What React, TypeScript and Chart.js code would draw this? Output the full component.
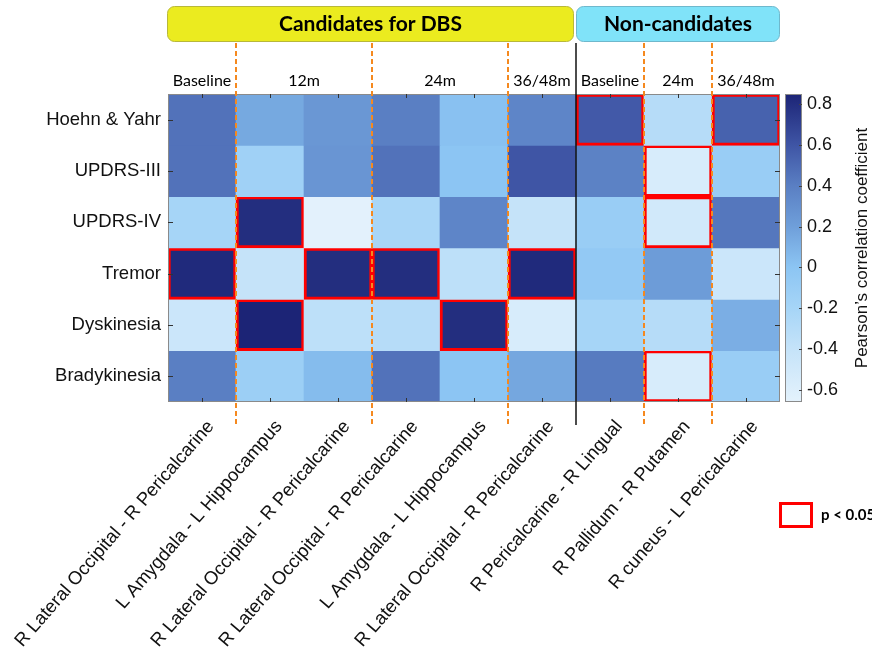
import React, { useEffect, useRef } from 'react';
import { Chart, registerables } from 'chart.js';

Chart.register(...registerables);

// ---------- data ----------
const connections = [
  'R Lateral Occipital - R Pericalcarine',
  'L Amygdala - L Hippocampus',
  'R Lateral Occipital - R Pericalcarine',
  'R Lateral Occipital - R Pericalcarine',
  'L Amygdala - L Hippocampus',
  'R Lateral Occipital - R Pericalcarine',
  'R Pericalcarine - R Lingual',
  'R Pallidum - R Putamen',
  'R cuneus - L Pericalcarine',
];

const measures = ['Hoehn & Yahr', 'UPDRS-III', 'UPDRS-IV', 'Tremor', 'Dyskinesia', 'Bradykinesia'];

const hoehnYahr = [0.46, 0.15, 0.25, 0.4, 0.02, 0.36, 0.58, -0.3, 0.54];
const updrsIII = [0.46, -0.15, 0.26, 0.46, 0.0, 0.6, 0.38, -0.55, -0.1];
const updrsIV = [-0.2, 0.8, -0.65, -0.22, 0.36, -0.4, -0.1, -0.5, 0.44];
const tremor = [0.82, -0.4, 0.8, 0.8, -0.35, 0.82, -0.05, 0.22, -0.45];
const dyskinesia = [-0.45, 0.85, -0.35, -0.3, 0.8, -0.55, -0.2, -0.3, 0.12];
const bradykinesia = [0.4, -0.12, 0.05, 0.46, 0.0, 0.16, 0.42, -0.55, -0.1];
const correlations = [hoehnYahr, updrsIII, updrsIV, tremor, dyskinesia, bradykinesia];

// column indices with p < 0.05, per measure
const sigHoehnYahr = [6, 8];
const sigUpdrsIII = [7];
const sigUpdrsIV = [1, 7];
const sigTremor = [0, 2, 3, 5];
const sigDyskinesia = [1, 4];
const sigBradykinesia = [7];
const significant = [sigHoehnYahr, sigUpdrsIII, sigUpdrsIV, sigTremor, sigDyskinesia, sigBradykinesia];

const groupLabels = ['Candidates for DBS', 'Non-candidates'];
const groupSpans = [[0, 5], [6, 8]];
const timepointLabels = ['Baseline', '12m', '24m', '36/48m', 'Baseline', '24m', '36/48m'];
const timepointSpans = [[0, 0], [1, 2], [3, 4], [5, 5], [6, 6], [7, 7], [8, 8]];

const colorbarTicks = [0.8, 0.6, 0.4, 0.2, 0, -0.2, -0.4, -0.6];
const colorMin = -0.66;
const colorMax = 0.85;
const colorbarTitle = 'Pearson\u2019s correlation coefficient';
const legendLabel = 'p < 0.05';

// ---------- colormap ----------
const cmapStops: [number, string][] = [
  [-0.66, '#e4f2fc'],
  [-0.4, '#c5e3f9'],
  [-0.2, '#a6d5f7'],
  [0.0, '#8cc5f3'],
  [0.2, '#6f9fda'],
  [0.4, '#5a7fc3'],
  [0.6, '#3f55a5'],
  [0.85, '#1c2476'],
];

function hexToRgb(h: string) {
  const n = parseInt(h.slice(1), 16);
  return [(n >> 16) & 255, (n >> 8) & 255, n & 255];
}

function colormap(v: number) {
  const c = Math.max(cmapStops[0][0], Math.min(cmapStops[cmapStops.length - 1][0], v));
  for (let i = 0; i < cmapStops.length - 1; i++) {
    const [a, ca] = cmapStops[i];
    const [b, cb] = cmapStops[i + 1];
    if (c >= a && c <= b) {
      const t = (c - a) / (b - a);
      const A = hexToRgb(ca);
      const B = hexToRgb(cb);
      const r = A.map((x, k) => Math.round(x + (B[k] - x) * t));
      return `rgb(${r[0]},${r[1]},${r[2]})`;
    }
  }
  return cmapStops[0][1];
}

const SANS = "'Liberation Sans', Arial, Helvetica, sans-serif";
const HEAD = "Lato, 'Open Sans', sans-serif";

const overlayPlugin = {
  id: 'overlay',
  afterDatasetsDraw(chart: any) {
    const { ctx, chartArea: ca, scales } = chart;
    const xs = scales.x;
    const ys = scales.y;
    const cb = scales.cbar;
    const colW = xs.getPixelForValue(1) - xs.getPixelForValue(0);
    const colLeft = (i: number) => xs.getPixelForValue(i) - colW / 2;
    const colRight = (i: number) => xs.getPixelForValue(i) + colW / 2;

    ctx.save();
    // outline
    ctx.strokeStyle = '#8a8a8a';
    ctx.lineWidth = 1;
    ctx.strokeRect(ca.left + 0.5, ca.top + 0.5, ca.width - 1, ca.height - 1);

    // inward tick marks
    ctx.strokeStyle = '#333';
    ctx.lineWidth = 1;
    ctx.beginPath();
    connections.forEach((_, i) => {
      const px = Math.round(xs.getPixelForValue(i)) + 0.5;
      ctx.moveTo(px, ca.top);
      ctx.lineTo(px, ca.top + 4);
      ctx.moveTo(px, ca.bottom);
      ctx.lineTo(px, ca.bottom - 4);
    });
    measures.forEach((_, r) => {
      const py = Math.round(ys.getPixelForValue(r + 0.5)) + 0.5;
      ctx.moveTo(ca.left, py);
      ctx.lineTo(ca.left + 5, py);
      ctx.moveTo(ca.right, py);
      ctx.lineTo(ca.right - 5, py);
    });
    ctx.stroke();

    const lineTop = 43;
    const lineBottom = ca.bottom + 23;

    // dashed separators between timepoints
    ctx.strokeStyle = '#f5891f';
    ctx.lineWidth = 2;
    ctx.setLineDash([5, 3]);
    timepointSpans.forEach(([s, e], k) => {
      if (k === timepointSpans.length - 1) return;
      const next = timepointSpans[k + 1][0];
      const inGroupBoundary = groupSpans.some(([gs]) => gs === next);
      if (inGroupBoundary) return;
      const px = colRight(e);
      ctx.beginPath();
      ctx.moveTo(px, lineTop);
      ctx.lineTo(px, lineBottom);
      ctx.stroke();
    });
    ctx.setLineDash([]);

    // solid separator between groups
    ctx.strokeStyle = '#111';
    ctx.lineWidth = 1.5;
    groupSpans.slice(1).forEach(([s]) => {
      const px = colLeft(s);
      ctx.beginPath();
      ctx.moveTo(px, lineTop);
      ctx.lineTo(px, lineBottom);
      ctx.stroke();
    });

    // group header boxes
    const groupFill = ['#ebeb1f', '#80e3f9'];
    const groupStroke = ['#b8b83a', '#6fb8cc'];
    groupSpans.forEach(([s, e], k) => {
      const l = colLeft(s) - 1 + (k > 0 ? 1 : 0);
      const r = colRight(e) - (k === 0 ? 2 : 0);
      const t = 6;
      const b = 42;
      ctx.beginPath();
      (ctx as any).roundRect(l + 0.5, t + 0.5, r - l - 1, b - t - 1, 7);
      ctx.fillStyle = groupFill[k];
      ctx.fill();
      ctx.strokeStyle = groupStroke[k];
      ctx.lineWidth = 1;
      ctx.stroke();
      ctx.fillStyle = '#000';
      ctx.font = `bold 21px ${HEAD}`;
      ctx.textAlign = 'center';
      ctx.textBaseline = 'middle';
      ctx.fillText(groupLabels[k], (l + r) / 2, 24);
    });

    // timepoint labels
    ctx.font = `16px ${HEAD}`;
    ctx.fillStyle = '#000';
    ctx.textAlign = 'center';
    ctx.textBaseline = 'middle';
    timepointSpans.forEach(([s, e], k) => {
      ctx.fillText(timepointLabels[k], (colLeft(s) + colRight(e)) / 2, 81);
    });

    // colorbar
    const cbL = ca.right + 5;
    const cbW = 17;
    const gTop = cb.getPixelForValue(colorMax);
    const gBot = cb.getPixelForValue(colorMin);
    const grad = ctx.createLinearGradient(0, gTop, 0, gBot);
    cmapStops.forEach(([v, c]) => {
      grad.addColorStop((cb.getPixelForValue(v) - gTop) / (gBot - gTop), c);
    });
    ctx.fillStyle = grad;
    ctx.fillRect(cbL, gTop, cbW, gBot - gTop);
    ctx.strokeStyle = '#8a8a8a';
    ctx.lineWidth = 1;
    ctx.strokeRect(cbL + 0.5, gTop + 0.5, cbW - 1, gBot - gTop - 1);
    ctx.strokeStyle = '#444';
    ctx.beginPath();
    colorbarTicks.forEach((v) => {
      const py = Math.round(cb.getPixelForValue(v)) + 0.5;
      ctx.moveTo(cbL + cbW, py);
      ctx.lineTo(cbL + cbW - 3, py);
    });
    ctx.stroke();

    // colorbar title
    ctx.save();
    ctx.translate(862, (gTop + gBot) / 2);
    ctx.rotate(-Math.PI / 2);
    ctx.font = `17px ${SANS}`;
    ctx.fillStyle = '#111';
    ctx.textAlign = 'center';
    ctx.textBaseline = 'middle';
    ctx.fillText(colorbarTitle, 0, 0);
    ctx.restore();

    // significance legend
    ctx.strokeStyle = '#ff0000';
    ctx.lineWidth = 3;
    ctx.strokeRect(ca.right + 0.5, 503.5, 31, 23);
    ctx.fillStyle = '#000';
    ctx.font = `bold 15px ${HEAD}`;
    ctx.textAlign = 'left';
    ctx.textBaseline = 'middle';
    ctx.fillText(legendLabel, 821, 515);

    ctx.restore();
  },
};

export default function App() {
  const ref = useRef<HTMLCanvasElement | null>(null);

  useEffect(() => {
    if (!ref.current) return;
    const datasets = measures.map((m, r) => ({
      label: m,
      data: connections.map(() => [r, r + 1]),
      backgroundColor: correlations[r].map((v) => colormap(v)),
      borderColor: '#ff0000',
      borderWidth: connections.map((_, i) => (significant[r].includes(i) ? 3 : 0)),
      borderSkipped: false as any,
      barPercentage: 1,
      categoryPercentage: 1,
      grouped: false,
    }));

    const chart = new Chart(ref.current, {
      type: 'bar',
      data: { labels: connections, datasets },
      plugins: [overlayPlugin],
      options: {
        animation: false,
        responsive: false,
        layout: { padding: { top: 94, left: 0, right: 0, bottom: 0 } },
        plugins: { legend: { display: false }, tooltip: { enabled: false } },
        scales: {
          x: {
            type: 'category',
            grid: { display: false, drawTicks: false },
            border: { display: false },
            ticks: {
              autoSkip: false,
              maxRotation: 49,
              minRotation: 49,
              padding: 14,
              labelOffset: 9,
              color: '#111',
              font: { family: SANS, size: 18.5 },
            },
            afterFit: (s: any) => {
              s.height = 253;
              s.paddingLeft = 0;
              s.paddingRight = 0;
            },
          },
          y: {
            type: 'linear',
            min: 0,
            max: measures.length,
            reverse: true,
            grid: { display: false, drawTicks: false },
            border: { display: false },
            afterBuildTicks: (s: any) => {
              s.ticks = measures.map((_, i) => ({ value: i + 0.5 }));
            },
            ticks: {
              padding: 7,
              color: '#111',
              font: { family: SANS, size: 18.5 },
              callback: (v: any) => measures[Math.floor(Number(v))],
            },
            afterFit: (s: any) => {
              s.width = 168;
              s.paddingTop = 0;
              s.paddingBottom = 0;
            },
          },
          cbar: {
            type: 'linear',
            position: 'right',
            min: colorMin,
            max: colorMax,
            grid: { display: false, drawTicks: false },
            border: { display: false },
            afterBuildTicks: (s: any) => {
              s.ticks = colorbarTicks.map((v) => ({ value: v }));
            },
            ticks: {
              padding: 27,
              color: '#111',
              font: { family: SANS, size: 18 },
              callback: (v: any) => String(v),
            },
            afterFit: (s: any) => {
              s.width = 92;
              s.paddingTop = 0;
              s.paddingBottom = 0;
            },
          },
        },
      },
    });
    return () => chart.destroy();
  }, []);

  return (
    <div style={{ position: 'absolute', left: 0, top: 0, width: 872, height: 655, background: '#fff' }}>
      <canvas ref={ref} width={872} height={655} style={{ display: 'block' }} />
    </div>
  );
}
